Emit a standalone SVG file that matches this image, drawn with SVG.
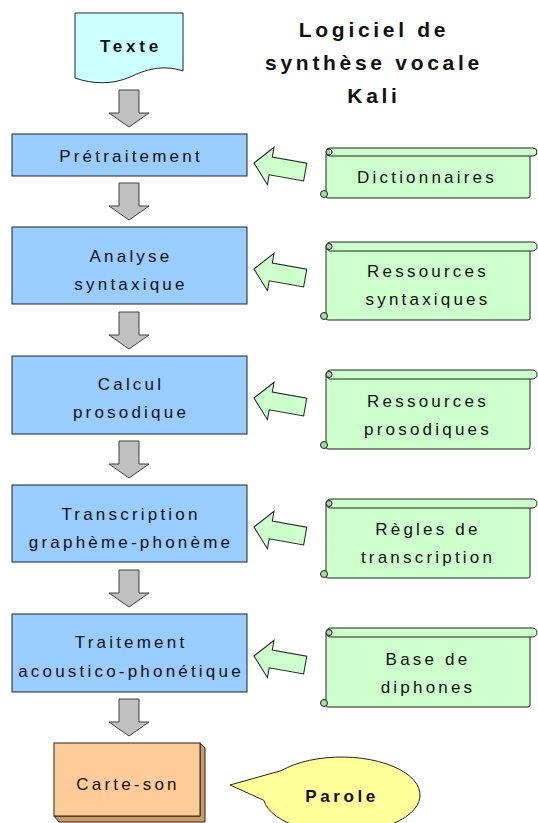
<svg xmlns="http://www.w3.org/2000/svg" width="538" height="823" viewBox="0 0 538 823">
<style>
  text { font-family: "Liberation Sans", Arial, sans-serif; font-size: 17px; fill: #111; text-anchor: middle; letter-spacing: 3.2px; }
  .title { font-size: 21px; font-weight: bold; letter-spacing: 3.7px; }
  .bold { font-weight: bold; letter-spacing: 3.8px; }
  .proc { fill: #99CCFF; stroke: #222; stroke-width: 1; }
  .down { fill: #C0C0C0; stroke: #404040; stroke-width: 1; }
  .left { fill: #CCFFCC; stroke: #222; stroke-width: 1; }
  .scroll { fill: #CCFFCC; stroke: #222; stroke-width: 1; }
  .curl { fill: #A6D9A6; stroke: #222; stroke-width: 1; }
</style>
<defs>
  <path id="downArrow" d="M-10,0 H10 V23 H20 L0,37 L-20,23 H-10 Z"/>
  <path id="leftArrow" d="M0,0 L17,-19 V-9 H52 V9 H17 V19 Z"/>
</defs>

<g id="title">
  <text class="title" x="374" y="37">Logiciel de</text>
  <text class="title" x="374" y="70">synthèse vocale</text>
  <text class="title" x="374" y="103">Kali</text>
</g>

<g id="texte">
  <path d="M75,13 H183 V71 C162,64 145,70 130,77 C112,85 92,84 75,78 Z" fill="#CCFFFF" stroke="#222" stroke-width="1"/>
  <text class="bold" x="131" y="52">Texte</text>
</g>

<g id="pretraitement">
  <rect class="proc" x="12" y="134" width="235" height="42"/>
  <text x="131" y="162">Prétraitement</text>
</g>
<g id="analyse">
  <rect class="proc" x="12" y="227" width="235" height="77"/>
  <text x="131" y="262">Analyse</text>
  <text x="131" y="290">syntaxique</text>
</g>
<g id="calcul">
  <rect class="proc" x="12" y="356" width="235" height="78"/>
  <text x="131" y="390">Calcul</text>
  <text x="131" y="418">prosodique</text>
</g>
<g id="transcription">
  <rect class="proc" x="12" y="485" width="235" height="77"/>
  <text x="131" y="520">Transcription</text>
  <text x="131" y="548">graphème-phonème</text>
</g>
<g id="traitement">
  <rect class="proc" x="12" y="614" width="235" height="78"/>
  <text x="131" y="648">Traitement</text>
  <text x="131" y="677">acoustico-phonétique</text>
</g>

<g id="carteson">
  <path d="M200,743 L205,748 V822 H59 L54,816 H200 Z" fill="#CC9966" stroke="#222" stroke-width="1"/>
  <rect x="54" y="743" width="146" height="73" fill="#FFCC99" stroke="#222" stroke-width="1"/>
  <text x="128" y="790">Carte-son</text>
</g>

<g id="parole">
  <path d="M281.4,770.6 L230,785 L263.8,800.3 A78.5 38 0 1 0 281.4,770.6 Z" fill="#FFFF99" stroke="#222" stroke-width="1"/>
  <text class="bold" x="342" y="802" style="letter-spacing:3.6px">Parole</text>
</g>

<g id="dictionnaires">
  <rect class="scroll" x="326" y="152" width="204" height="46" rx="2"/>
  <rect class="scroll" x="326" y="148" width="211" height="8" rx="4"/>
  <circle class="curl" cx="329" cy="152" r="3"/>
  <circle class="curl" cx="324" cy="194" r="3.5"/>
  <text x="427" y="183">Dictionnaires</text>
</g>
<g id="ressources-syntaxiques">
  <rect class="scroll" x="326" y="246" width="204" height="74" rx="2"/>
  <rect class="scroll" x="326" y="242" width="211" height="9" rx="4.5"/>
  <circle class="curl" cx="329" cy="246.5" r="3"/>
  <circle class="curl" cx="324" cy="316" r="3.5"/>
  <text x="428" y="277">Ressources</text>
  <text x="428" y="305">syntaxiques</text>
</g>
<g id="ressources-prosodiques">
  <rect class="scroll" x="326" y="374" width="204" height="75" rx="2"/>
  <rect class="scroll" x="326" y="370" width="211" height="9" rx="4.5"/>
  <circle class="curl" cx="329" cy="374.5" r="3"/>
  <circle class="curl" cx="324" cy="445" r="3.5"/>
  <text x="428" y="407">Ressources</text>
  <text x="428" y="435">prosodiques</text>
</g>
<g id="regles">
  <rect class="scroll" x="326" y="503" width="204" height="75" rx="2"/>
  <rect class="scroll" x="326" y="499" width="211" height="9" rx="4.5"/>
  <circle class="curl" cx="329" cy="503.5" r="3"/>
  <circle class="curl" cx="324" cy="574" r="3.5"/>
  <text x="428" y="535">Règles de</text>
  <text x="428" y="563">transcription</text>
</g>
<g id="diphones">
  <rect class="scroll" x="326" y="632" width="204" height="75" rx="2"/>
  <rect class="scroll" x="326" y="628" width="211" height="9" rx="4.5"/>
  <circle class="curl" cx="329" cy="632.5" r="3"/>
  <circle class="curl" cx="324" cy="703" r="3.5"/>
  <text x="428" y="665">Base de</text>
  <text x="428" y="693">diphones</text>
</g>

<g id="connectors">
  <use href="#downArrow" class="down" transform="translate(129,90)"/>
  <use href="#downArrow" class="down" transform="translate(129,183)"/>
  <use href="#downArrow" class="down" transform="translate(129,312)"/>
  <use href="#downArrow" class="down" transform="translate(129,441)"/>
  <use href="#downArrow" class="down" transform="translate(129,570)"/>
  <use href="#downArrow" class="down" transform="translate(129,699)"/>
  <use href="#leftArrow" class="left" transform="translate(254,163) rotate(10)"/>
  <use href="#leftArrow" class="left" transform="translate(254,269) rotate(10)"/>
  <use href="#leftArrow" class="left" transform="translate(254,398) rotate(10)"/>
  <use href="#leftArrow" class="left" transform="translate(254,527) rotate(10)"/>
  <use href="#leftArrow" class="left" transform="translate(254,656) rotate(10)"/>
</g>
</svg>
